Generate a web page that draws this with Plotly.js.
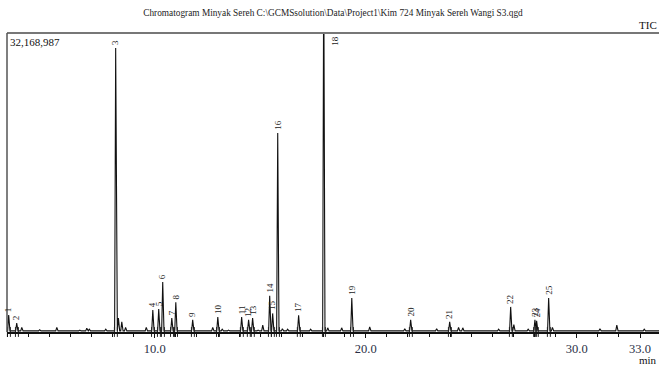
<!DOCTYPE html>
<html>
<head>
<meta charset="utf-8">
<script src="https://cdn.plot.ly/plotly-3.0.1.min.js"></script>
<style>html,body{margin:0;padding:0;background:#fff;}#chart{width:659px;height:367px;}</style>
</head>
<body>
<div id="chart"></div>
<script>
// Labelled peaks: retention time (min) and intensity (counts)
const peakLabels = ['1','2','3','4','5','6','7','8','9','10','11','12','13','14','15','16','17','18','19','20','21','22','23','24','25'];
const peakTimes  = [3.08,3.46,8.15,9.91,10.19,10.38,10.81,11.00,11.80,12.99,14.12,14.45,14.64,15.45,15.59,15.83,16.82,18.01,19.34,22.13,23.98,26.87,28.02,28.10,28.67];
const peakHeights= [1830000,970000,30560000,2370000,2470000,5380000,1500000,3200000,1300000,1600000,1600000,1300000,1500000,3900000,2000000,21400000,1800000,40000000,3660000,1300000,1100000,2700000,1300000,1200000,3660000];
// Small unlabelled peaks / shoulders
const minorTimes  = [3.70,4.55,5.36,6.45,6.78,6.90,7.68,8.28,8.44,8.62,9.60,12.75,13.20,13.50,14.90,15.12,16.05,16.30,17.39,18.20,18.86,20.19,21.85,23.36,24.40,24.60,26.30,27.02,27.70,28.85,31.10,31.90,33.20];
const minorHeights= [500000,250000,500000,200000,400000,300000,300000,1500000,1100000,500000,500000,500000,300000,200000,200000,750000,350000,300000,300000,450000,450000,550000,350000,350000,500000,450000,300000,800000,300000,500000,350000,750000,300000];
const xTickVals = [10,20,30,33];
const xTickText = ['10.0','20.0','30.0','33.0'];
const yMax = 32168987;
const xRange = [3.0, 33.9];

// build the trace from the peak list
const all = [];
peakTimes.forEach((t,i)=>all.push([t,peakHeights[i]]));
minorTimes.forEach((t,i)=>all.push([t,minorHeights[i]]));
all.sort((a,b)=>a[0]-b[0]);
const base = 120000;
const xs=[xRange[0]], ys=[base];
let last = xRange[0];
all.forEach(([t,h])=>{
  const l = Math.max(t-0.05, last);
  const r = t+0.06;
  xs.push(l); ys.push(base);
  xs.push(t); ys.push(h);
  xs.push(r); ys.push(base);
  last = r;
});
xs.push(xRange[1]); ys.push(base);

const markX=[], markY=[];
peakTimes.forEach(t=>{markX.push(t-0.06, t+0.08); markY.push(0,0);});

const serif = 'Liberation Serif, Times New Roman, serif';
const annotations = peakLabels.map((lab,i)=>{
  const h = peakHeights[i];
  if (h > yMax) {
    return {x:peakTimes[i], y:yMax, xref:'x', yref:'y', text:lab, showarrow:false, textangle:-90,
      xanchor:'left', yanchor:'top', xshift:4, yshift:-1, font:{family:serif,size:9,color:'#222'}};
  }
  return {x:peakTimes[i], y:h, xref:'x', yref:'y', text:lab, showarrow:false, textangle:-90,
    xanchor:'center', yanchor:'bottom', yshift:1, font:{family:serif,size:9,color:'#222'}};
});
annotations.push({x:0, y:1, xref:'paper', yref:'paper', text:'32,168,987', showarrow:false,
  xanchor:'left', yanchor:'top', xshift:1, yshift:-1, font:{family:serif,size:11,color:'#111'}});
annotations.push({x:1, y:1, xref:'paper', yref:'paper', text:'TIC', showarrow:false,
  xanchor:'right', yanchor:'bottom', xshift:0, yshift:0, font:{family:serif,size:11,color:'#111'}});
annotations.push({x:1, y:0, xref:'paper', yref:'paper', text:'min', showarrow:false,
  xanchor:'right', yanchor:'top', xshift:0, yshift:-20, font:{family:serif,size:11,color:'#111'}});

const data = [
  {x:xs, y:ys, type:'scatter', mode:'lines', line:{color:'#111', width:1.1}, hoverinfo:'skip'},
  {x:markX, y:markY, type:'scatter', mode:'markers', cliponaxis:false,
   marker:{symbol:'line-ns-open', size:7, color:'#222', line:{color:'#222', width:1}}, hoverinfo:'skip'}
];

const layout = {
  width:659, height:367,
  margin:{l:7, r:0, t:33, b:35},
  paper_bgcolor:'#fff', plot_bgcolor:'#fff',
  showlegend:false,
  title:{text:'Chromatogram Minyak Sereh C:\\GCMSsolution\\Data\\Project1\\Kim 724 Minyak Sereh Wangi S3.qgd',
    x:0.5, xref:'paper', y:1-13/367, yref:'container', yanchor:'middle',
    font:{family:serif, size:9.3, color:'#222'}},
  xaxis:{range:xRange, showgrid:false, zeroline:false, showline:true, linecolor:'#111', linewidth:1.5,
    tickmode:'array', tickvals:xTickVals, ticktext:xTickText, ticks:'outside', ticklen:4, tickcolor:'#111',
    tickfont:{family:serif, size:12.5, color:'#2a2f45'},
    minor:{tickmode:'linear', tick0:0, dtick:1, ticks:'outside', ticklen:3, tickcolor:'#111'}},
  yaxis:{range:[0,yMax], showgrid:false, zeroline:false, showline:false, showticklabels:false, ticks:''},
  shapes:[
    {type:'line', xref:'paper', yref:'paper', x0:0, x1:1, y0:1, y1:1, line:{color:'#777', width:2}},
    {type:'line', xref:'paper', yref:'paper', x0:0, x1:0, y0:0, y1:1, line:{color:'#555', width:1.5}}
  ],
  annotations:annotations
};
Plotly.newPlot('chart', data, layout, {staticPlot:true, displayModeBar:false});
</script>
</body>
</html>
